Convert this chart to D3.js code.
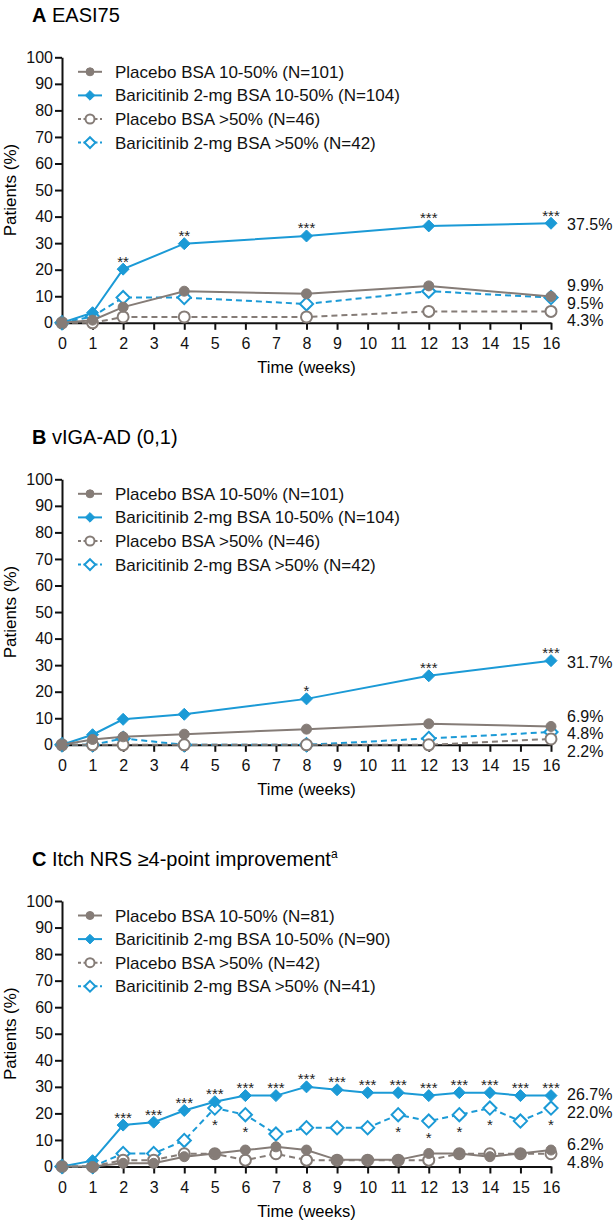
<!DOCTYPE html>
<html>
<head>
<meta charset="utf-8">
<script src="https://cdn.jsdelivr.net/npm/d3@7"></script>
<style>
    body { margin: 0; background: #fff; }
    text { font-family: 'Liberation Sans', Arial, sans-serif; }
</style>
</head>
<body>
<div id="chart"></div>
<script>
// weeks with data, and the x ticks shown
var weeksAB = [0, 1, 2, 4, 8, 12, 16]
var weeksC = [0, 1, 2, 3, 4, 5, 6, 7, 8, 9, 10, 11, 12, 13, 14, 15, 16]
var xTicks = [0, 1, 2, 3, 4, 5, 6, 7, 8, 9, 10, 11, 12, 13, 14, 15, 16]

// A EASI75
var easiPbo = [0, 1.0, 5.9, 11.9, 10.9, 13.9, 9.9]
var easiBari = [0, 3.8, 20.2, 29.8, 32.7, 36.5, 37.5]
var easiPboHigh = [0, 0, 2.2, 2.2, 2.2, 4.3, 4.3]
var easiBariHigh = [0, 2.4, 9.5, 9.5, 7.1, 11.9, 9.5]
var easiStars = ['', '', '**', '**', '***', '***', '***']

// B vIGA-AD (0,1)
var vigaPbo = [0, 2.0, 3.0, 4.0, 5.9, 7.9, 6.9]
var vigaBari = [0, 3.8, 9.6, 11.5, 17.3, 26.0, 31.7]
var vigaPboHigh = [0, 0, 0, 0, 0, 0, 2.2]
var vigaBariHigh = [0, 0, 2.4, 0, 0, 2.4, 4.8]
var vigaStars = ['', '', '', '', '*', '***', '***']

// C Itch NRS
var itchPbo = [0, 0, 1.2, 1.2, 3.7, 4.9, 6.2, 7.4, 6.2, 2.5, 2.5, 2.5, 4.9, 4.9, 3.7, 4.9, 6.2]
var itchBari = [0, 2.2, 15.6, 16.7, 21.1, 24.4, 26.7, 26.7, 30.0, 28.9, 27.8, 27.8, 26.7, 27.8, 27.8, 26.7, 26.7]
var itchPboHigh = [0, 0, 2.4, 2.4, 4.8, 4.8, 2.4, 4.8, 2.4, 2.4, 2.4, 2.4, 2.4, 4.8, 4.8, 4.8, 4.8]
var itchBariHigh = [0, 0, 4.9, 4.9, 9.8, 22.0, 19.5, 12.2, 14.6, 14.6, 14.6, 19.5, 17.1, 19.5, 22.0, 17.1, 22.0]
var itchStars = ['', '', '***', '***', '***', '***', '***', '***', '***', '***', '***', '***', '***', '***', '***', '***', '***']
var itchStarsHigh = ['', '', '', '', '', '*', '*', '', '', '', '', '*', '*', '*', '*', '', '*']

var yTicks = [0, 10, 20, 30, 40, 50, 60, 70, 80, 90, 100]

var namesAB = ['Placebo BSA 10-50% (N=101)', 'Baricitinib 2-mg BSA 10-50% (N=104)',
    'Placebo BSA >50% (N=46)', 'Baricitinib 2-mg BSA >50% (N=42)']
var namesC = ['Placebo BSA 10-50% (N=81)', 'Baricitinib 2-mg BSA 10-50% (N=90)',
    'Placebo BSA >50% (N=42)', 'Baricitinib 2-mg BSA >50% (N=41)']

var BLUE = '#1b9ad6'
var GRAY = '#857c77'

// marker/line style per series, same order as the legend
var styles = [
    {color: GRAY, shape: 'circle', open: false, dash: null},
    {color: BLUE, shape: 'diamond', open: false, dash: null},
    {color: GRAY, shape: 'circle', open: true, dash: '6,4'},
    {color: BLUE, shape: 'diamond', open: true, dash: '6,4'}
]

var svg = d3.select('#chart')
    .append('svg')
    .attr('width', 613)
    .attr('height', 1228)

var x = d3.scaleLinear().domain([0, 16]).range([62, 551])

function marker(g, st, size) {
    if (st.shape == 'circle') {
        g.append('circle').attr('r', size)
    } else {
        var r = size * 1.2
        g.append('path').attr('d', 'M0,' + (-r) + 'L' + r + ',0L0,' + r + 'L' + (-r) + ',0Z')
    }
    g.selectAll('circle,path')
        .attr('fill', st.open ? '#fff' : st.color)
        .attr('stroke', st.color)
        .attr('stroke-width', st.open ? 2 : 1)
}

function panel(opts) {
    var top = opts.top
    var y = d3.scaleLinear().domain([0, 100]).range([top + 265.5, top])
    var g = svg.append('g')

    // title
    var t = g.append('text')
        .attr('x', 32)
        .attr('y', top - 35.5)
        .style('font-size', '20px')
    t.append('tspan').attr('font-weight', 'bold').text(opts.letter)
    t.append('tspan').text(' ' + opts.title)
    if (opts.sup) {
        t.append('tspan').attr('dy', -8).style('font-size', '12px').text(opts.sup)
    }

    // axes
    var yAxis = g.append('g')
        .attr('transform', 'translate(' + x(0) + ',0)')
        .call(d3.axisLeft(y).tickValues(yTicks).tickSize(7).tickSizeOuter(0).tickPadding(2))
    var xAxis = g.append('g')
        .attr('transform', 'translate(0,' + y(0) + ')')
        .call(d3.axisBottom(x).tickValues(xTicks).tickSize(7).tickSizeOuter(0).tickPadding(8))
    ;[yAxis, xAxis].forEach(function(a) {
        a.selectAll('path,line').attr('stroke', '#111').attr('stroke-width', 2)
        a.selectAll('text').style('font-size', '16px').attr('fill', '#111')
    })

    g.append('text')
        .attr('transform', 'translate(16,' + y(50) + ') rotate(-90)')
        .attr('text-anchor', 'middle')
        .style('font-size', '17px')
        .text('Patients (%)')
    g.append('text')
        .attr('x', (x(0) + x(16)) / 2)
        .attr('y', y(0) + 50.5)
        .attr('text-anchor', 'middle')
        .style('font-size', '16.5px')
        .text('Time (weeks)')

    // series, drawn last legend item first
    var line = d3.line().x(d => x(d[0])).y(d => y(d[1]))
    for (var s = 3; s >= 0; s--) {
        var st = styles[s]
        var pts = opts.weeks.map((w, i) => [w, opts.series[s][i]])
        g.append('path')
            .datum(pts)
            .attr('d', line)
            .attr('fill', 'none')
            .attr('stroke', st.color)
            .attr('stroke-width', 2)
            .attr('stroke-dasharray', st.dash)
        pts.forEach(function(p) {
            var m = g.append('g').attr('transform', 'translate(' + x(p[0]) + ',' + y(p[1]) + ')')
            marker(m, st, st.open ? 5.5 : 5)
        })
    }

    // significance stars
    var starG = g.append('g').style('font-size', '15px').attr('text-anchor', 'middle')
    opts.stars.forEach(function(txt, i) {
        if (!txt) return
        starG.append('text')
            .attr('x', x(opts.weeks[i]))
            .attr('y', y(opts.series[1][i]) - 2.5)
            .attr('fill', '#222')
            .text(txt)
    })
    if (opts.starsHigh) {
        opts.starsHigh.forEach(function(txt, i) {
            if (!txt) return
            starG.append('text')
                .attr('x', x(opts.weeks[i]))
                .attr('y', y(opts.series[3][i]) + 22)
                .attr('fill', '#222')
                .text(txt)
        })
    }

    // end labels, nudged apart when they crowd
    var gap = 17.5
    var items = opts.series.map(v => ({v: v[v.length - 1], want: y(v[v.length - 1]) + 7}))
        .sort((a, b) => a.want - b.want)
    var clusters = []
    items.forEach(function(it) {
        clusters.push({items: [it], start: it.want})
        while (clusters.length > 1) {
            var a = clusters[clusters.length - 2]
            var b = clusters[clusters.length - 1]
            if (a.start + a.items.length * gap <= b.start) break
            var all = a.items.concat(b.items)
            clusters.splice(-2, 2, {items: all, start: d3.mean(all, (d, i) => d.want - i * gap)})
        }
    })
    clusters.forEach(function(c) {
        c.items.forEach(function(it, i) {
            g.append('text')
                .attr('x', 567)
                .attr('y', c.start + i * gap)
                .style('font-size', '16px')
                .attr('fill', '#111')
                .text(d3.format('.1f')(it.v) + '%')
        })
    })

    // legend
    opts.names.forEach(function(name, i) {
        var ly = top + 14.5 + i * 23.6
        var st = styles[i]
        g.append('line')
            .attr('x1', 78).attr('x2', 102)
            .attr('y1', ly).attr('y2', ly)
            .attr('stroke', st.color)
            .attr('stroke-width', 2)
            .attr('stroke-dasharray', st.dash ? '3,2.5' : null)
        var m = g.append('g').attr('transform', 'translate(90,' + ly + ')')
        marker(m, st, st.open ? 4.5 : 4)
        g.append('text')
            .attr('x', 115)
            .attr('y', ly + 6)
            .style('font-size', '17px')
            .attr('fill', '#111')
            .text(name)
    })
}

panel({top: 57.3, letter: 'A', title: 'EASI75', weeks: weeksAB, names: namesAB,
    series: [easiPbo, easiBari, easiPboHigh, easiBariHigh], stars: easiStars})
panel({top: 479.3, letter: 'B', title: 'vIGA-AD (0,1)', weeks: weeksAB, names: namesAB,
    series: [vigaPbo, vigaBari, vigaPboHigh, vigaBariHigh], stars: vigaStars})
panel({top: 901, letter: 'C', title: 'Itch NRS \u22654-point improvement', sup: 'a', weeks: weeksC, names: namesC,
    series: [itchPbo, itchBari, itchPboHigh, itchBariHigh], stars: itchStars, starsHigh: itchStarsHigh})
</script>
</body>
</html>
